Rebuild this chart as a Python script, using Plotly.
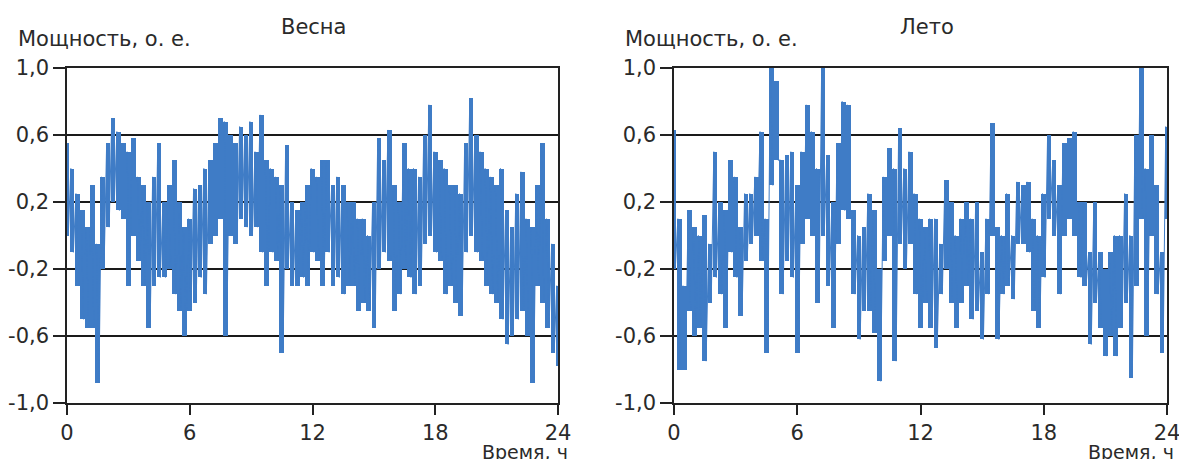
import plotly.graph_objects as go

# Time grid: every 0.25 h from 0 to 24 (97 samples); each sample has an upper and lower reading
step_h = 0.25

spring_hi = [
    0.55, 0.40, 0.25, 0.15,
    0.05, 0.30, -0.05, 0.35,
    0.55, 0.70, 0.62, 0.55,
    0.50, 0.58, 0.35, 0.30,
    0.20, 0.35, 0.55, 0.20,
    0.30, 0.45, 0.20, 0.05,
    0.10, 0.28, 0.30, 0.40,
    0.45, 0.55, 0.70, 0.68,
    0.60, 0.55, 0.65, 0.60,
    0.68, 0.50, 0.72, 0.45,
    0.40, 0.35, 0.30, 0.54,
    0.20, 0.15, 0.20, 0.30,
    0.40, 0.35, 0.45, 0.45,
    0.30, 0.35, 0.30, 0.20,
    0.20, 0.10, 0.10, 0.00,
    0.20, 0.58, 0.45, 0.63,
    0.30, 0.20, 0.55, 0.40,
    0.40, 0.35, 0.60, 0.78,
    0.50, 0.45, 0.40, 0.30,
    0.30, 0.25, 0.55, 0.82,
    0.60, 0.50, 0.40, 0.35,
    0.30, 0.40, 0.15, 0.05,
    0.25, 0.38, 0.10, 0.05,
    0.30, 0.55, 0.10, -0.05,
    -0.30,
]
spring_lo = [
    0.00, -0.10, -0.30, -0.50,
    -0.55, -0.55, -0.88, -0.20,
    0.05, 0.20, 0.15, 0.10,
    -0.30, 0.00, -0.15, -0.30,
    -0.55, -0.30, -0.25, -0.25,
    -0.20, -0.35, -0.45, -0.60,
    -0.45, -0.40, -0.25, -0.35,
    -0.05, 0.00, 0.10, -0.60,
    0.00, -0.05, 0.10, 0.05,
    0.00, 0.05, -0.10, -0.30,
    -0.10, -0.15, -0.70, -0.20,
    -0.30, -0.30, -0.25, -0.30,
    -0.10, -0.15, -0.30, -0.10,
    -0.30, -0.25, -0.35, -0.30,
    -0.30, -0.45, -0.40, -0.45,
    -0.55, -0.20, -0.10, -0.15,
    -0.45, -0.35, -0.20, -0.25,
    -0.35, -0.30, -0.05, 0.00,
    -0.10, -0.15, -0.35, -0.30,
    -0.40, -0.48, -0.10, 0.00,
    -0.10, -0.15, -0.30, -0.35,
    -0.40, -0.50, -0.65, -0.60,
    -0.50, -0.45, -0.60, -0.88,
    -0.30, -0.40, -0.55, -0.70,
    -0.78,
]
summer_hi = [
    0.63, 0.10, -0.30, 0.15,
    0.05, 0.00, 0.12, -0.05,
    0.50, 0.20, 0.15, 0.45,
    0.35, 0.05, 0.25, 0.25,
    0.35, 0.62, 0.10, 1.00,
    0.92, 0.45, 0.48, 0.50,
    0.30, 0.50, 0.78, 0.62,
    0.40, 1.00, 0.48, 0.20,
    0.55, 0.80, 0.78, 0.15,
    0.00, 0.05, 0.25, 0.15,
    -0.20, 0.35, 0.52, 0.40,
    0.64, 0.40, 0.50, 0.25,
    0.10, 0.05, 0.10, 0.10,
    -0.05, 0.33, 0.20, 0.00,
    0.10, 0.20, 0.10, 0.20,
    -0.10, 0.10, 0.67, 0.05,
    0.00, 0.25, 0.00, 0.32,
    0.30, 0.32, 0.10, 0.00,
    0.25, 0.60, 0.45, 0.30,
    0.55, 0.58, 0.62, 0.20,
    0.20, -0.10, 0.20, -0.10,
    -0.20, -0.10, 0.00, 0.00,
    0.25, 0.00, 0.60, 1.00,
    0.40, 0.60, 0.30, -0.10,
    0.65,
]
summer_lo = [
    -0.20, -0.80, -0.80, -0.45,
    -0.60, -0.55, -0.75, -0.40,
    -0.25, -0.35, -0.55, -0.10,
    -0.25, -0.48, -0.15, -0.05,
    0.00, -0.15, -0.70, 0.30,
    0.45, -0.35, -0.15, -0.25,
    -0.70, -0.05, 0.10, 0.00,
    -0.40, 0.00, -0.30, -0.55,
    -0.05, 0.15, 0.10, -0.35,
    -0.62, -0.45, -0.45, -0.58,
    -0.87, -0.15, 0.00, -0.75,
    -0.05, -0.20, -0.05, -0.35,
    -0.55, -0.40, -0.55, -0.67,
    -0.35, -0.20, -0.40, -0.55,
    -0.40, -0.30, -0.50, -0.45,
    -0.62, -0.35, 0.00, -0.62,
    -0.35, -0.30, -0.38, -0.05,
    -0.05, -0.10, -0.45, -0.55,
    -0.25, 0.10, 0.00, -0.35,
    0.00, 0.10, 0.00, -0.25,
    -0.30, -0.65, -0.40, -0.55,
    -0.72, -0.60, -0.72, -0.55,
    -0.40, -0.85, -0.30, 0.10,
    -0.60, 0.00, -0.35, -0.70,
    0.10,
]

x_ticks = [0, 6, 12, 18, 24]
y_ticks = [1.0, 0.6, 0.2, -0.2, -0.6, -1.0]
y_tick_text = ["1,0", "0,6", "0,2", "-0,2", "-0,6", "-1,0"]
titles = ["Весна", "Лето"]
y_title = "Мощность, о. е."
x_title = "Время, ч"

LINE = "#3f7cc6"
FONT = "DejaVu Sans"
FS = 21
OFF = 8                      # page body margin
W, H = 1187 - OFF, 459 - OFF


def fx(px):
    return (px - OFF) / W


def fy(py):
    return 1 - (py - OFF) / H


fig = go.Figure()
panels = [(spring_hi, spring_lo, "x", "y"), (summer_hi, summer_lo, "x2", "y2")]
for hi, lo, xa, ya in panels:
    t = [i * step_h for i in range(len(hi))]
    # vertical strokes from the lower to the upper reading of every sample
    fig.add_trace(go.Bar(x=t, base=lo, y=[h - l for h, l in zip(hi, lo)], width=0.23,
                         xaxis=xa, yaxis=ya, marker=dict(color=LINE, line=dict(width=0)),
                         showlegend=False, hoverinfo="skip"))
    # the signal jumping between the readings
    xs, ys = [], []
    for ti, h, l in zip(t, hi, lo):
        xs += [ti - step_h / 4, ti + step_h / 4]
        ys += [h, l]
    fig.add_trace(go.Scatter(x=xs, y=ys, mode="lines", xaxis=xa, yaxis=ya,
                             line=dict(color=LINE, width=1), showlegend=False,
                             hoverinfo="skip"))

tick_font = dict(family=FONT, size=FS, color="#2a2a2a")
axis_common_x = dict(range=[0, 24], tickvals=x_ticks, ticks="outside", ticklen=10,
                     tickwidth=1.5, tickcolor="#222", showline=True, linecolor="#222",
                     linewidth=1.5, mirror=True, showgrid=False, zeroline=False,
                     automargin=False, tickfont=tick_font)
axis_common_y = dict(range=[-1, 1], tickvals=y_ticks, ticktext=y_tick_text,
                     ticks="outside", ticklen=12, tickwidth=1.5, tickcolor="#222",
                     showline=True, linecolor="#222", linewidth=1.5, mirror=True,
                     showgrid=True, gridcolor="#1a1a1a", gridwidth=1.5, zeroline=False,
                     automargin=False, tickfont=tick_font)

ydom = [fy(403), fy(68)]
fig.update_layout(
    width=W, height=H, margin=dict(l=0, r=0, t=0, b=0, autoexpand=False),
    paper_bgcolor="white", plot_bgcolor="white", bargap=0, barmode="overlay",
    xaxis=dict(domain=[fx(67), fx(558)], anchor="y", **axis_common_x),
    yaxis=dict(domain=ydom, anchor="x", **axis_common_y),
    xaxis2=dict(domain=[fx(674), fx(1167)], anchor="y2", **axis_common_x),
    yaxis2=dict(domain=ydom, anchor="x2", **axis_common_y),
)

txt_font = dict(family=FONT, size=FS, color="#2a2a2a")
xt_font = dict(family=FONT, size=19, color="#2a2a2a")
ann = []
for k, (title_cx, ylab_x, xlab_r) in enumerate([(313, 16, 570), (927, 623, 1176)]):
    ann.append(dict(text=titles[k], x=fx(title_cx), y=fy(27), xref="paper", yref="paper",
                    xanchor="center", yanchor="middle", showarrow=False, font=txt_font))
    ann.append(dict(text=y_title, x=fx(ylab_x), y=fy(39), xref="paper", yref="paper",
                    xanchor="left", yanchor="middle", showarrow=False, font=txt_font))
    ann.append(dict(text=x_title, x=fx(xlab_r), y=fy(452), xref="paper", yref="paper",
                    xanchor="right", yanchor="middle", showarrow=False, font=xt_font))
fig.update_layout(annotations=ann)

fig.write_html("out.html")
